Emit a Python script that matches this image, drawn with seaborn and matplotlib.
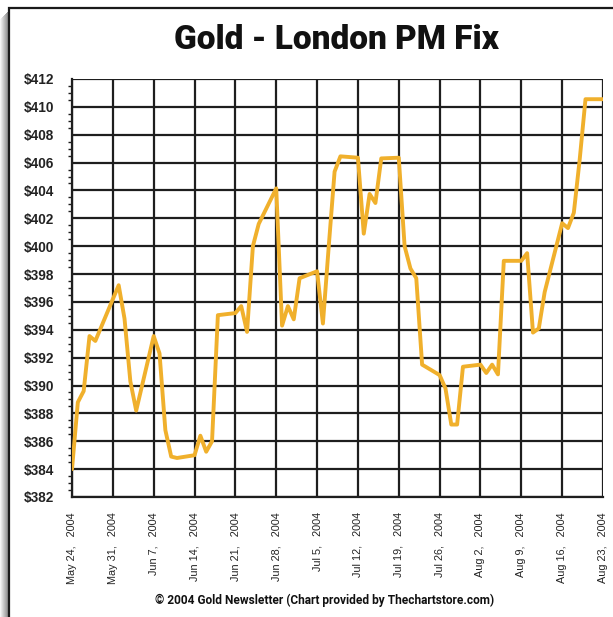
import matplotlib
matplotlib.use("Agg")
import matplotlib.pyplot as plt
from matplotlib.patches import Rectangle
from matplotlib.ticker import MultipleLocator
import seaborn as sns
import pandas as pd

# ---- data ----
dates = ["2004-05-24", "2004-05-25", "2004-05-26", "2004-05-27", "2004-05-28",
         "2004-06-01", "2004-06-02", "2004-06-03", "2004-06-04",
         "2004-06-07", "2004-06-08", "2004-06-09", "2004-06-10", "2004-06-11",
         "2004-06-14", "2004-06-15", "2004-06-16", "2004-06-17", "2004-06-18",
         "2004-06-21", "2004-06-22", "2004-06-23", "2004-06-24", "2004-06-25",
         "2004-06-28", "2004-06-29", "2004-06-30", "2004-07-01", "2004-07-02",
         "2004-07-05", "2004-07-06", "2004-07-07", "2004-07-08", "2004-07-09",
         "2004-07-12", "2004-07-13", "2004-07-14", "2004-07-15", "2004-07-16",
         "2004-07-19", "2004-07-20", "2004-07-21", "2004-07-22", "2004-07-23",
         "2004-07-26", "2004-07-27", "2004-07-28", "2004-07-29", "2004-07-30",
         "2004-08-02", "2004-08-03", "2004-08-04", "2004-08-05", "2004-08-06",
         "2004-08-09", "2004-08-10", "2004-08-11", "2004-08-12", "2004-08-13",
         "2004-08-16", "2004-08-17", "2004-08-18", "2004-08-19", "2004-08-20",
         "2004-08-23"]
prices = [384.0, 388.8, 389.6, 393.55, 393.2,
          397.2, 394.8, 390.3, 388.2,
          393.55, 392.3, 386.8, 384.9, 384.8,
          385.0, 386.4, 385.25, 386.0, 395.05,
          395.2, 395.7, 393.85, 400.0, 401.6,
          404.15, 394.3, 395.7, 394.75, 397.7,
          398.2, 394.45, 400.0, 405.35, 406.45,
          406.35, 400.9, 403.75, 403.1, 406.3,
          406.35, 400.0, 398.4, 397.7, 391.5,
          390.75, 389.8, 387.2, 387.2, 391.35,
          391.5, 390.9, 391.5, 390.8, 398.95,
          398.95, 399.5, 393.8, 394.1, 396.7,
          401.65, 401.3, 402.4, 406.2, 410.55,
          410.55]
tick_dates = ["2004-05-24", "2004-05-31", "2004-06-07", "2004-06-14", "2004-06-21",
              "2004-06-28", "2004-07-05", "2004-07-12", "2004-07-19", "2004-07-26",
              "2004-08-02", "2004-08-09", "2004-08-16", "2004-08-23"]
tick_labels = ["May 24,   2004", "May 31,   2004", "Jun 7,   2004", "Jun 14,   2004",
               "Jun 21,   2004", "Jun 28,   2004", "Jul 5,   2004", "Jul 12,   2004",
               "Jul 19,   2004", "Jul 26,   2004", "Aug 2,   2004", "Aug 9,   2004",
               "Aug 16,   2004", "Aug 23,   2004"]
y_ticks = list(range(382, 413, 2))
title = "Gold - London PM Fix"
footer = "\u00a9 2004 Gold Newsletter (Chart provided by Thechartstore.com)"

df = pd.DataFrame({"date": pd.to_datetime(dates), "price": prices})

sns.set_style("white")
plt.rcParams["font.family"] = ["Liberation Sans", "DejaVu Sans"]
head_font = ["Roboto", "DejaVu Sans"]

W, H = 613, 617
fig = plt.figure(figsize=(W / 100, H / 100), dpi=100)
fig.patch.set_facecolor("white")

# frame with left shadow
shades = ["#f4f4f4", "#e6e6e6", "#d8d8d8", "#cacaca", "#bcbcbc", "#aeaeae", "#a0a0a0", "#929292"]
for i, c in enumerate(shades):
    fig.add_artist(Rectangle((i / W, 0), 1 / W, (H - 12 - (7 - i)) / H,
                             transform=fig.transFigure, facecolor=c, edgecolor="none", zorder=-2))
fig.add_artist(Rectangle((9 / W, -0.05), 1.0, (H - 8) / H + 0.05, transform=fig.transFigure,
                         facecolor="white", edgecolor="#1a1a1a", linewidth=1.6, zorder=-1))

ax = fig.add_axes([72 / W, 1 - 497 / H, (603 - 72) / W, (497 - 79) / H])
ax.set_zorder(2)
ax.set_facecolor("none")

sns.lineplot(data=df, x="date", y="price", ax=ax, color="#F0B02C", linewidth=2.8, zorder=3)

ax.set_xlim(pd.Timestamp(tick_dates[0]), pd.Timestamp(tick_dates[-1]))
ax.set_ylim(382, 412)
ax.set_xticks(pd.to_datetime(tick_dates))
ax.set_xticklabels(tick_labels, rotation=90, fontsize=7.8, color="#222222")
ax.set_yticks(y_ticks)
ax.set_yticklabels([f"${v}" for v in y_ticks], fontsize=9.8, fontweight="bold", color="#222222")
ax.yaxis.set_minor_locator(MultipleLocator(0.5))
ax.set_xlabel("")
ax.set_ylabel("")

ax.grid(True, which="major", axis="both", color="#1e1e1e", linewidth=1.6, zorder=1)
for s in ["top", "right"]:
    ax.spines[s].set_visible(False)
for s in ["left", "bottom"]:
    ax.spines[s].set_color("#1e1e1e")
    ax.spines[s].set_linewidth(1.6)

ax.tick_params(axis="y", which="major", direction="out", length=5, width=1.2, color="#1e1e1e", pad=8)
ax.tick_params(axis="y", which="minor", direction="out", length=3, width=1.0, color="#1e1e1e", left=True)
ax.tick_params(axis="x", which="major", direction="out", length=5, width=1.2, color="#1e1e1e", pad=6)

fig.text(337 / W, 1 - 40 / H, title, ha="center", va="center", fontsize=24,
         fontweight="black", family=head_font, color="#111111")
fig.text(325 / W, 1 - 600 / H, footer, ha="center", va="center", fontsize=8.6,
         fontweight="bold", family=head_font, color="#111111")

fig.savefig("out.png", dpi=100, facecolor="white")
